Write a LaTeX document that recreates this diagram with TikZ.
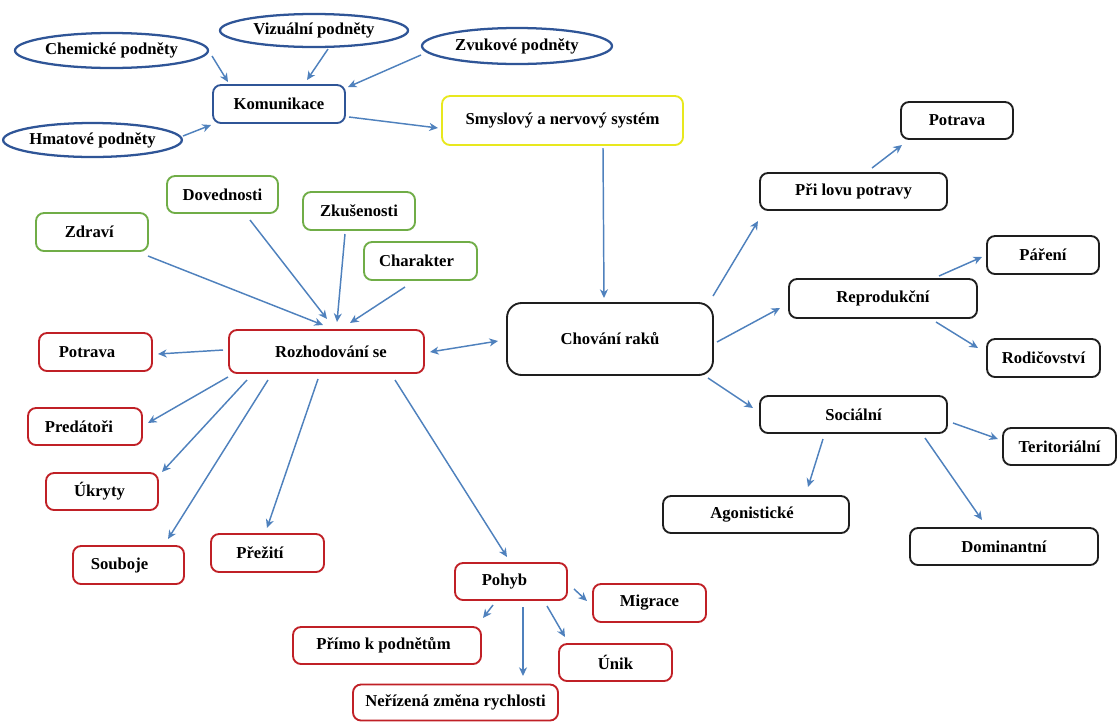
\documentclass[tikz,border=0pt]{standalone}
\usepackage{fontspec}
\setmainfont{Liberation Serif}
\usetikzlibrary{shapes.geometric,arrows.meta}
\definecolor{arrblue}{RGB}{79,129,189}
\definecolor{ellblue}{RGB}{47,85,151}
\definecolor{bxgreen}{RGB}{112,173,71}
\definecolor{bxred}{RGB}{192,32,38}
\definecolor{bxyellow}{RGB}{232,232,30}
\definecolor{bxblack}{RGB}{30,30,30}
\tikzset{
  sz/.style 2 args={minimum width=#1*0.75pt, minimum height=#2*0.75pt},
  base/.style={inner sep=0pt, font=\fontsize{12.5}{14}\selectfont\bfseries, line width=1.4pt, fill=white},
  ell/.style={base, ellipse, draw=ellblue, line width=1.7pt},
  rbox/.style={base, rectangle, rounded corners=6pt, draw=#1},
  arr/.style={draw=arrblue, line width=1.1pt, -{Stealth[length=6.5pt,width=6pt,inset=2pt]}},
  darr/.style={draw=arrblue, line width=1.1pt, {Stealth[length=6.5pt,width=6pt,inset=2pt]}-{Stealth[length=6.5pt,width=6pt,inset=2pt]}}
}
\newcommand{\conn}[5][arr]{\draw[#1] ([shift={(#3)}]#2.center) -- ([shift={(#5)}]#4.center);}
% text shifted left (kern after) or right (kern before)
\newcommand{\tleft}[2]{#2\kern#1}
\newcommand{\tright}[2]{\kern#1#2}
\begin{document}
\begin{tikzpicture}[x=0.75pt,y=-0.75pt]
\useasboundingbox (0,0) rectangle (1118,722);
% ellipses
\node[ell, sz={193}{35}] (chem) at (111.5,50.5) {Chemické podněty};
\node[ell, sz={188}{33}] (viz) at (314,30.5) {Vizuální podněty};
\node[ell, sz={190}{36}] (zvuk) at (517,46) {Zvukové podněty};
\node[ell, sz={169}{34}] (hmat) at (92.5,140) {Hmatové podněty};
\node[rbox=ellblue, sz={132}{38}] (kom) at (279,104) {Komunikace};
\node[rbox=bxyellow, sz={241}{49}] (smysl) at (562.5,120.5) {Smyslový a nervový systém};
\node[rbox=bxblack, rounded corners=11pt, sz={206}{72}] (chov) at (610,339) {Chování raků};
% green
\node[rbox=bxgreen, sz={112}{38}] (zdr) at (92,232) {\tleft{4pt}{Zdraví}};
\node[rbox=bxgreen, sz={111}{37}] (dov) at (222.5,194.5) {Dovednosti};
\node[rbox=bxgreen, sz={112}{38}] (zkus) at (359,211) {Zkušenosti};
\node[rbox=bxgreen, sz={113}{38}] (char) at (420.5,261) {\tleft{6pt}{Charakter}};
% red
\node[rbox=bxred, sz={113}{38}] (potL) at (95.5,352) {\tleft{12.75pt}{Potrava}};
\node[rbox=bxred, sz={195}{43}] (rozh) at (326.5,351.5) {\tright{6.75pt}{Rozhodování se}};
\node[rbox=bxred, sz={114}{37}] (pred) at (85,426.5) {\tleft{9pt}{Predátoři}};
\node[rbox=bxred, sz={112}{37}] (ukr) at (102,491.5) {\tleft{3.75pt}{Úkryty}};
\node[rbox=bxred, sz={111}{38}] (soub) at (128.5,565) {\tleft{13.5pt}{Souboje}};
\node[rbox=bxred, sz={113}{38}] (prez) at (267.5,553) {\tleft{11.25pt}{Přežití}};
\node[rbox=bxred, sz={112}{37}] (pohyb) at (511,581.5) {\tleft{9.75pt}{Pohyb}};
\node[rbox=bxred, sz={113}{38}] (migr) at (649.5,603) {Migrace};
\node[rbox=bxred, sz={188}{37}] (primo) at (387,645.5) {\tleft{5.25pt}{Přímo k podnětům}};
\node[rbox=bxred, sz={113}{37}] (unik) at (615.5,662.5) {Únik};
\node[rbox=bxred, sz={205}{36}] (neriz) at (455.5,702.5) {Neřízená změna rychlosti};
% black
\node[rbox=bxblack, sz={112}{37}] (potR) at (957,120.5) {Potrava};
\node[rbox=bxblack, sz={187}{37}] (lov) at (853.5,191.5) {Při lovu potravy};
\node[rbox=bxblack, sz={112}{38}] (par) at (1043,255) {Páření};
\node[rbox=bxblack, sz={188}{39}] (repro) at (883,298.5) {Reprodukční};
\node[rbox=bxblack, sz={113}{38}] (rodic) at (1043.5,358) {Rodičovství};
\node[rbox=bxblack, sz={187}{37}] (soc) at (853.5,414.5) {Sociální};
\node[rbox=bxblack, sz={113}{37}] (terit) at (1059.5,446.5) {Teritoriální};
\node[rbox=bxblack, sz={186}{37}] (agon) at (756,514.5) {\tleft{6pt}{Agonistické}};
\node[rbox=bxblack, sz={188}{37}] (dom) at (1004,546.5) {Dominantní};
% connectors
\conn{chem}{100.5,5.5}{kom}{-51,-22}
\conn{viz}{14,18.5}{kom}{28,-24}
\conn{zvuk}{-96,9}{kom}{69,-17}
\conn{hmat}{90.5,-4}{kom}{-68,21}
\conn{kom}{70,13}{smysl}{-124.5,7.5}
\conn{smysl}{40.5,27.5}{chov}{-6,-41}
\conn{zdr}{56,24}{rozh}{-3.5,-26.5}
\conn{dov}{27.5,25.5}{rozh}{0.5,-32.5}
\conn{zkus}{-14,23}{rozh}{10.5,-29.5}
\conn{char}{-15.5,26}{rozh}{23.5,-28.5}
\conn{rozh}{-103.5,-1.5}{potL}{62.5,2}
\conn[darr]{rozh}{103.5,0.5}{chov}{-112,2}
\conn{rozh}{-98.5,25.5}{pred}{63,-3.5}
\conn{rozh}{-79.5,28.5}{ukr}{60,-19.5}
\conn{rozh}{-58.5,28.5}{soub}{39.5,-26}
\conn{rozh}{-8.5,27.5}{prez}{-0.5,-25}
\conn{rozh}{68.5,28.5}{pohyb}{-4,-24.5}
\conn{pohyb}{63,7.5}{migr}{-62.5,-2}
\conn{pohyb}{-18,23.5}{primo}{96,-27.5}
\conn{pohyb}{12,25.5}{neriz}{67.5,-26.5}
\conn{pohyb}{36,24.5}{unik}{-50.5,-25.5}
\conn{chov}{103,-43}{lov}{-95.5,29.5}
\conn{lov}{18.5,-23.5}{potR}{-55,24.5}
\conn{chov}{107,3}{repro}{-103,9.5}
\conn{repro}{56,-22.5}{par}{-61,2}
\conn{repro}{53,23.5}{rodic}{-65.5,-10}
\conn{chov}{98,39}{soc}{-100.5,-6.5}
\conn{soc}{99.5,8.5}{terit}{-61.5,-7.5}
\conn{soc}{-30.5,24.5}{agon}{52,-27.5}
\conn{soc}{71.5,23.5}{dom}{-22,-26.5}
\end{tikzpicture}
\end{document}
